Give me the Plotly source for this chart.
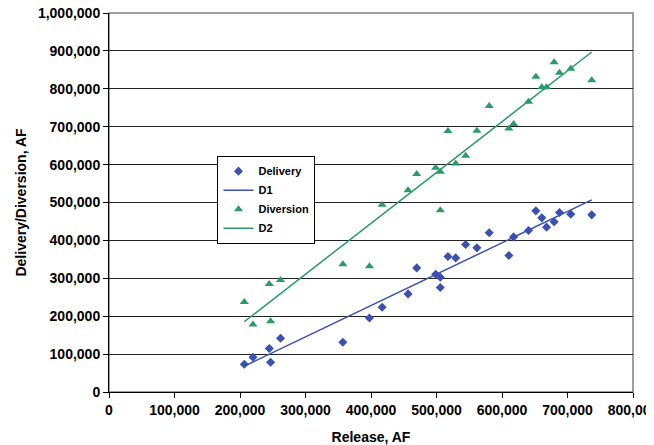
import numpy as np
import plotly.graph_objects as go

release = [206600, 219800, 244700, 246700, 261900, 357000, 397600, 417000, 456600,
           469800, 498800, 505800, 505800, 517500, 529300, 544500, 561700, 580500,
           610500, 617700, 640500, 651700, 660800, 668000, 679600, 687800, 705000, 737000]
delivery = [73100, 91600, 114600, 78400, 141800, 131200, 195400, 223700, 258800,
            327400, 310800, 302900, 275700, 357500, 353800, 389200, 380300, 420000,
            360200, 409300, 426200, 478000, 459500, 434900, 448900, 473700, 469200, 467400]
diversion = [237600, 178000, 285000, 186700, 295700, 337000, 332000, 493800, 532600,
             574900, 591500, 581000, 479800, 688400, 603000, 623200, 689200, 754400,
             695500, 706900, 765800, 831800, 803800, 803800, 869800, 842400, 852900, 822300]

x_ticks = [0, 100000, 200000, 300000, 400000, 500000, 600000, 700000, 800000]
y_ticks = [0, 100000, 200000, 300000, 400000, 500000, 600000, 700000, 800000, 900000, 1000000]

BLUE = "#3B50B0"
GREEN = "#2A9B68"
FONT = "Liberation Sans, Arial, sans-serif"

rx = np.array(release, dtype=float)
b1, a1 = np.polyfit(rx, np.array(delivery, dtype=float), 1)
b2, a2 = np.polyfit(rx, np.array(diversion, dtype=float), 1)
xl = np.array([rx.min(), rx.max()])

fig = go.Figure()
fig.add_trace(go.Scatter(x=release, y=delivery, mode="markers", name="Delivery",
                         marker=dict(symbol="diamond", size=7, color=BLUE)))
fig.add_trace(go.Scatter(x=xl, y=a1 + b1 * xl, mode="lines", name="D1",
                         line=dict(color=BLUE, width=1.5)))
fig.add_trace(go.Scatter(x=release, y=diversion, mode="markers", name="Diversion",
                         marker=dict(symbol="triangle-up", size=8, color=GREEN)))
fig.add_trace(go.Scatter(x=xl, y=a2 + b2 * xl, mode="lines", name="D2",
                         line=dict(color=GREEN, width=1.5)))

fig.update_layout(
    width=646, height=437,
    margin=dict(l=100.5, r=21, t=5, b=53.3, autoexpand=False),
    paper_bgcolor="white", plot_bgcolor="white",
    font=dict(family=FONT, size=14, color="black"),
    showlegend=True,
    legend=dict(x=0.207, y=0.5075, xanchor="left", yanchor="middle",
                bgcolor="white", bordercolor="black", borderwidth=1,
                font=dict(family=FONT, size=11, color="black", weight="bold"),
                tracegroupgap=0, itemwidth=30),
    shapes=[dict(type="rect", xref="paper", yref="paper", x0=0, y0=0, x1=1, y1=1,
                 line=dict(color="#808080", width=1.5), layer="below")],
)
fig.update_xaxes(range=[0, 800000], tickvals=x_ticks, tickformat=",d",
                 automargin=False, ticklabeloverflow="allow",
                 showgrid=False, zeroline=False,
                 showline=True, linecolor="black", linewidth=1,
                 ticks="outside", ticklen=5, tickcolor="black",
                 tickfont=dict(family=FONT, size=14, weight="bold"),
                 title=dict(text="Release, AF", standoff=16,
                            font=dict(family=FONT, size=14, weight="bold")))
fig.update_yaxes(range=[0, 1000000], tickvals=y_ticks, tickformat=",d",
                 automargin=False, ticklabeloverflow="allow",
                 showgrid=True, gridcolor="#222222", gridwidth=1, zeroline=False,
                 showline=True, linecolor="black", linewidth=1,
                 ticks="outside", ticklen=5, tickcolor="black",
                 tickfont=dict(family=FONT, size=14, weight="bold"),
                 title=dict(text="Delivery/Diversion, AF", standoff=8,
                            font=dict(family=FONT, size=14, weight="bold")))

fig.write_html("out.html")
